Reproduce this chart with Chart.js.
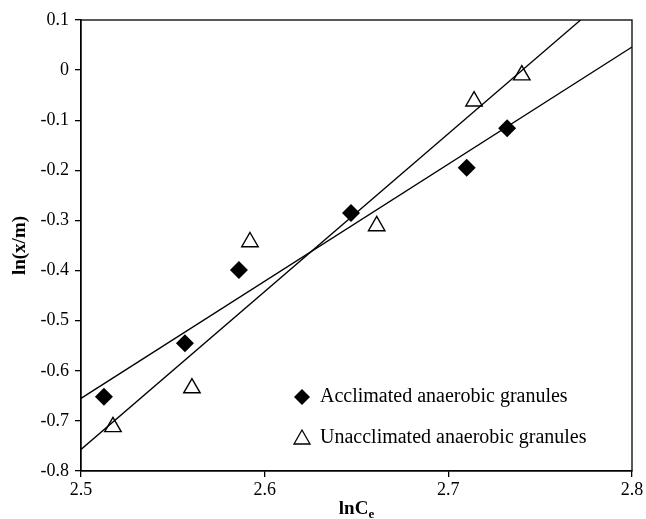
<!DOCTYPE html>
<html>
<head>
<meta charset="utf-8">
<script src="https://cdn.jsdelivr.net/npm/chart.js@4.4.0/dist/chart.umd.min.js"></script>
<style>
  html, body { margin: 0; padding: 0; background: #fff; }
  #wrap { width: 646px; height: 519px; }
</style>
</head>
<body>
<div id="wrap"><canvas id="chart" width="646" height="519"></canvas></div>
<script>
// valores
const acclX = [2.5125, 2.5566, 2.586, 2.647, 2.710, 2.732];
const acclY = [-0.652, -0.545, -0.399, -0.285, -0.195, -0.116];
const unacX = [2.5174, 2.5604, 2.592, 2.661, 2.714, 2.740];
const unacY = [-0.712, -0.6345, -0.343, -0.311, -0.062, -0.010];

// retas de ajuste (extremos)
const acclFitX = [2.5, 2.8];
const acclFitY = [-0.655, 0.046];
const unacFitX = [2.5, 2.772];
const unacFitY = [-0.757, 0.1];

const legendLabels = ['Acclimated anaerobic granules', 'Unacclimated anaerobic granules'];
const xTitle = 'lnC';
const xTitleSub = 'e';
const yTitle = 'ln(x/m)';

const SERIF = '"Liberation Serif", "Times New Roman", serif';

function pts(xs, ys) {
  return xs.map((x, i) => ({ x: x, y: ys[i] }));
}

// moldura + legenda + títulos dos eixos
const extras = {
  id: 'extras',
  afterDraw(chart) {
    const { ctx, chartArea: a } = chart;
    ctx.save();
    ctx.strokeStyle = '#000';
    ctx.lineWidth = 1.3;
    ctx.strokeRect(a.left, a.top, a.right - a.left, a.bottom - a.top);

    // legenda
    ctx.fillStyle = '#000';
    ctx.font = '20px ' + SERIF;
    ctx.textBaseline = 'middle';
    ctx.textAlign = 'left';
    const lx = 302, ty = [397, 438];
    // losango
    ctx.beginPath();
    ctx.moveTo(lx - 8, ty[0]);
    ctx.lineTo(lx, ty[0] - 8);
    ctx.lineTo(lx + 8, ty[0]);
    ctx.lineTo(lx, ty[0] + 8);
    ctx.closePath();
    ctx.fill();
    ctx.fillText(legendLabels[0], lx + 18, ty[0]);
    // triangulo
    ctx.beginPath();
    ctx.moveTo(lx, ty[1] - 8);
    ctx.lineTo(lx + 8, ty[1] + 6);
    ctx.lineTo(lx - 8, ty[1] + 6);
    ctx.closePath();
    ctx.fillStyle = '#fff';
    ctx.fill();
    ctx.lineWidth = 1.3;
    ctx.stroke();
    ctx.fillStyle = '#000';
    ctx.fillText(legendLabels[1], lx + 18, ty[1]);

    // título eixo x com subscrito
    ctx.font = 'bold 19px ' + SERIF;
    const w1 = ctx.measureText(xTitle).width;
    ctx.font = 'bold 13px ' + SERIF;
    const w2 = ctx.measureText(xTitleSub).width;
    const cx = (a.left + a.right) / 2;
    const x0 = cx - (w1 + w2) / 2;
    ctx.textBaseline = 'alphabetic';
    ctx.font = 'bold 19px ' + SERIF;
    ctx.fillText(xTitle, x0, 514);
    ctx.font = 'bold 13px ' + SERIF;
    ctx.fillText(xTitleSub, x0 + w1, 518);

    // título eixo y
    ctx.translate(20, (a.top + a.bottom) / 2);
    ctx.rotate(-Math.PI / 2);
    ctx.textAlign = 'center';
    ctx.textBaseline = 'middle';
    ctx.font = 'bold 19px ' + SERIF;
    ctx.fillText(yTitle, 0, 0);
    ctx.restore();
  }
};

const fmt = v => String(Number(v.toFixed(1)));

new Chart(document.getElementById('chart').getContext('2d'), {
  type: 'scatter',
  data: {
    datasets: [
      {
        label: 'fitAccl',
        data: pts(acclFitX, acclFitY),
        showLine: true,
        borderColor: '#000',
        borderWidth: 1.3,
        pointRadius: 0
      },
      {
        label: 'fitUnac',
        data: pts(unacFitX, unacFitY),
        showLine: true,
        borderColor: '#000',
        borderWidth: 1.3,
        pointRadius: 0
      },
      {
        label: legendLabels[0],
        data: pts(acclX, acclY),
        pointStyle: 'rectRot',
        pointRadius: 9,
        backgroundColor: '#000',
        borderColor: '#000',
        borderWidth: 0
      },
      {
        label: legendLabels[1],
        data: pts(unacX, unacY),
        pointStyle: 'triangle',
        pointRadius: 9.5,
        backgroundColor: '#fff',
        borderColor: '#000',
        borderWidth: 1.4
      }
    ]
  },
  options: {
    responsive: false,
    animation: false,
    layout: { padding: { top: 20, right: 14, left: 0, bottom: 0 } },
    plugins: {
      legend: { display: false },
      tooltip: { enabled: false }
    },
    scales: {
      x: {
        type: 'linear',
        min: 2.5,
        max: 2.8,
        afterFit: s => { s.height = 48; },
        ticks: {
          stepSize: 0.1,
          color: '#000',
          font: { family: SERIF, size: 18 },
          padding: 2,
          maxRotation: 0,
          callback: fmt
        },
        grid: { drawOnChartArea: false, color: '#000', tickLength: 6, lineWidth: 1.3 },
        border: { color: '#000', width: 1.3 }
      },
      y: {
        type: 'linear',
        min: -0.8,
        max: 0.1,
        afterFit: s => { s.width = 81; },
        ticks: {
          stepSize: 0.1,
          color: '#000',
          font: { family: SERIF, size: 18 },
          padding: 6,
          callback: fmt
        },
        grid: { drawOnChartArea: false, color: '#000', tickLength: 6, lineWidth: 1.3 },
        border: { color: '#000', width: 1.3 }
      }
    }
  },
  plugins: [extras]
});
</script>
</body>
</html>
